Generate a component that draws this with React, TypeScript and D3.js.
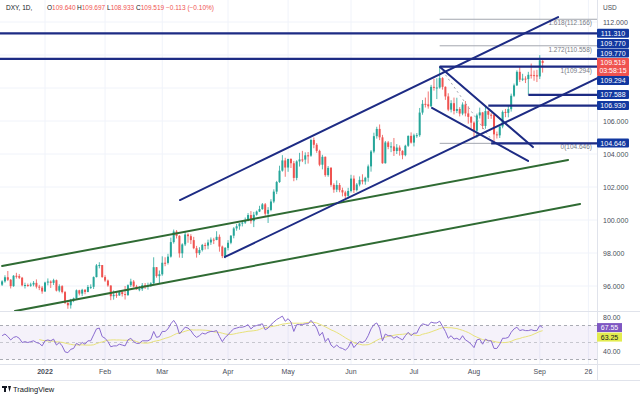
import * as d3 from 'd3'

// DXY daily bars, index 0 = 13 Dec 2021, one bar per weekday. [open, high, low, close]
const candles: [number, number, number, number][] = [
  [96.08, 96.35, 96.0, 96.28], [96.28, 96.65, 96.2, 96.53], [96.53, 96.91, 96.3, 96.38], [96.38, 96.42, 95.85, 95.99],
  [95.99, 96.66, 95.95, 96.62], [96.62, 96.8, 96.45, 96.6], [96.6, 96.72, 96.42, 96.5], [96.5, 96.55, 95.98, 96.04],
  [96.04, 96.2, 95.85, 96.06], [96.06, 96.15, 95.95, 96.02], [96.02, 96.2, 95.95, 96.09], [96.09, 96.3, 95.98, 96.19],
  [96.19, 96.4, 95.85, 95.96], [95.96, 96.07, 95.75, 95.9], [95.9, 96.0, 95.53, 95.67],
  // Jan
  [95.67, 96.26, 95.64, 96.21], [96.21, 96.46, 96.04, 96.27], [96.27, 96.34, 95.88, 96.19], [96.19, 96.44, 96.06, 96.35],
  [96.35, 96.39, 95.67, 95.72], [95.72, 96.1, 95.62, 95.99], [95.99, 96.05, 95.55, 95.63], [95.63, 95.7, 94.91, 94.97],
  [94.97, 95.1, 94.62, 94.83], [94.83, 95.22, 94.63, 95.17], [95.17, 95.3, 95.02, 95.25], [95.25, 95.79, 95.22, 95.74],
  [95.74, 95.77, 95.43, 95.54], [95.54, 95.83, 95.39, 95.77], [95.77, 95.81, 95.5, 95.64], [95.64, 96.06, 95.62, 95.94],
  [95.94, 96.1, 95.82, 95.95], [95.95, 96.58, 95.82, 96.54], [96.54, 97.33, 96.52, 97.25], [97.25, 97.44, 97.07, 97.27],
  [97.27, 97.27, 96.5, 96.54],
  // Feb
  [96.54, 96.65, 96.25, 96.33], [96.33, 96.39, 95.95, 96.03], [96.03, 96.04, 95.14, 95.38], [95.38, 95.73, 95.17, 95.47],
  [95.47, 95.62, 95.28, 95.43], [95.43, 95.73, 95.4, 95.63], [95.63, 95.7, 95.36, 95.51], [95.51, 96.0, 95.18, 95.45],
  [95.45, 96.1, 95.4, 96.05], [96.05, 96.44, 95.94, 96.27], [96.27, 96.36, 95.92, 95.97], [95.97, 96.07, 95.78, 95.8],
  [95.8, 96.0, 95.68, 95.81], [95.81, 96.18, 95.7, 96.05], [96.05, 96.18, 95.82, 96.03], [96.03, 96.2, 95.78, 96.04],
  [96.04, 96.23, 95.95, 96.16], [96.16, 97.74, 96.13, 97.14], [97.14, 97.15, 96.5, 96.6], [96.6, 96.94, 96.12, 96.71],
  // Mar
  [96.71, 97.8, 96.62, 97.41], [97.41, 97.74, 97.2, 97.4], [97.4, 97.95, 97.3, 97.78], [97.78, 98.93, 97.72, 98.66],
  [98.66, 99.42, 98.57, 99.3], [99.3, 99.39, 98.88, 99.04], [99.04, 99.08, 97.72, 97.98], [97.98, 98.59, 97.7, 98.52],
  [98.52, 99.29, 98.42, 99.12], [99.12, 99.19, 98.62, 99.02], [99.02, 99.14, 98.54, 98.78], [98.78, 98.98, 98.23, 98.29],
  [98.29, 98.43, 97.72, 97.99], [97.99, 98.35, 97.88, 98.18], [98.18, 98.55, 98.09, 98.49], [98.49, 98.62, 98.21, 98.45],
  [98.45, 98.81, 98.23, 98.64], [98.64, 98.94, 98.49, 98.81], [98.81, 98.92, 98.54, 98.79], [98.79, 99.32, 98.77, 98.98],
  [98.98, 99.12, 98.08, 98.39], [98.39, 98.45, 97.69, 97.81], [97.81, 98.36, 97.68, 98.31],
  // Apr
  [98.31, 98.78, 98.16, 98.62], [98.62, 99.08, 98.53, 99.05], [99.05, 99.57, 98.89, 99.49], [99.49, 99.76, 99.35, 99.62],
  [99.62, 99.81, 99.41, 99.79], [99.79, 99.94, 99.61, 99.84], [99.84, 100.15, 99.76, 99.95], [99.95, 100.42, 99.92, 100.3],
  [100.3, 100.54, 99.78, 99.93], [99.93, 100.49, 99.57, 100.32], [100.32, 100.57, 100.26, 100.51], [100.51, 100.86, 100.48, 100.66],
  [100.66, 101.03, 100.62, 100.95], [100.95, 101.03, 100.25, 100.38], [100.38, 100.78, 99.82, 100.61], [100.61, 101.26, 100.53, 101.12],
  [101.12, 101.86, 101.02, 101.72], [101.72, 102.37, 101.57, 102.3], [102.3, 103.29, 102.25, 102.99], [102.99, 103.93, 102.93, 103.61],
  [103.61, 103.77, 102.62, 103.18],
  // May
  [103.18, 103.71, 102.92, 103.7], [103.7, 103.74, 103.15, 103.44], [103.44, 103.58, 102.35, 102.55], [102.55, 103.62, 102.41, 103.55],
  [103.55, 104.07, 103.24, 103.67], [103.67, 104.19, 103.51, 103.66], [103.66, 104.1, 103.38, 103.92], [103.92, 104.12, 103.42, 103.9],
  [103.9, 104.93, 103.83, 104.85], [104.85, 105.0, 104.35, 104.56], [104.56, 104.66, 104.07, 104.19], [104.19, 104.26, 103.26, 103.35],
  [103.35, 103.95, 103.07, 103.83], [103.83, 103.85, 102.62, 102.72], [102.72, 103.27, 102.62, 103.16], [103.16, 103.21, 102.02, 102.13],
  [102.13, 102.23, 101.65, 101.84], [101.84, 102.4, 101.69, 102.12], [102.12, 102.24, 101.68, 101.81], [101.81, 101.96, 101.43, 101.67],
  [101.67, 101.77, 101.3, 101.46], [101.46, 101.95, 101.3, 101.76],
  // Jun
  [101.76, 102.74, 101.67, 102.51], [102.51, 102.7, 101.64, 101.81], [101.81, 102.24, 101.73, 102.15], [102.15, 102.64, 102.04, 102.43],
  [102.43, 102.77, 102.16, 102.33], [102.33, 102.62, 102.14, 102.56], [102.56, 103.36, 102.32, 103.25], [103.25, 104.24, 102.93, 104.15],
  [104.15, 105.29, 104.05, 105.08], [105.08, 105.65, 104.93, 105.52], [105.52, 105.79, 104.84, 105.01], [105.01, 105.16, 103.41, 103.44],
  [103.44, 104.79, 103.42, 104.7], [104.7, 104.79, 104.29, 104.43], [104.43, 104.72, 104.11, 104.46], [104.46, 104.97, 103.88, 104.18],
  [104.18, 104.6, 104.0, 104.39], [104.39, 104.52, 103.9, 104.19], [104.19, 104.23, 103.68, 103.93], [103.93, 104.56, 103.86, 104.5],
  [104.5, 105.12, 104.43, 105.1], [105.1, 105.31, 104.63, 104.69],
  // Jul
  [104.69, 105.23, 104.46, 105.13], [105.13, 105.27, 104.98, 105.14], [105.14, 106.79, 105.04, 106.51], [106.51, 107.27, 106.38, 107.04],
  [107.04, 107.42, 106.82, 107.01], [107.01, 107.79, 106.75, 106.89], [106.89, 108.19, 106.85, 108.07], [108.07, 108.56, 107.84, 108.02],
  [108.02, 108.59, 107.33, 108.03], [108.03, 109.29, 107.96, 108.6], [108.6, 108.66, 107.9, 108.07], [108.07, 108.1, 107.28, 107.49],
  [107.49, 107.68, 106.6, 106.69], [106.69, 107.26, 106.52, 107.08], [107.08, 107.42, 106.4, 106.61], [106.61, 107.41, 106.48, 106.73],
  [106.73, 106.84, 106.28, 106.45], [106.45, 107.13, 106.35, 107.0], [107.0, 107.21, 106.28, 106.46], [106.46, 106.89, 105.84, 106.25],
  [106.25, 106.3, 105.54, 105.9],
  // Aug
  [105.9, 105.98, 105.05, 105.41], [105.41, 106.45, 104.98, 106.34], [106.34, 106.81, 106.15, 106.52], [106.52, 106.55, 105.51, 105.7],
  [105.7, 106.93, 105.53, 106.6], [106.6, 106.65, 106.12, 106.38], [106.38, 106.48, 106.13, 106.36], [106.36, 106.45, 104.64, 105.19],
  [105.19, 105.36, 104.94, 105.13], [105.13, 105.69, 104.97, 105.67], [105.67, 106.64, 105.56, 106.55], [106.55, 106.73, 106.23, 106.49],
  [106.49, 106.97, 106.22, 106.72], [106.72, 107.66, 106.57, 107.53], [107.53, 108.27, 107.45, 108.16], [108.16, 109.07, 108.12, 108.98],
  [108.98, 109.27, 108.36, 108.5], [108.5, 108.86, 108.42, 108.57], [108.57, 108.71, 108.3, 108.54], [108.54, 108.98, 107.59, 108.8],
  [108.8, 109.48, 108.57, 108.78], [108.78, 109.06, 108.44, 108.77], [108.77, 109.1, 108.36, 108.7],
  // Sep
  [108.7, 109.99, 108.54, 109.68], [109.64, 109.697, 108.933, 109.519],
]

const rsi: number[] = [
  58, 60, 57, 53, 56, 57, 55, 50, 51, 50, 51, 52, 50, 49, 46,
  52, 53, 52, 54, 47, 50, 46, 39, 38, 42, 43, 49, 47, 50, 48, 52, 52, 59, 66, 67, 57,
  55, 51, 45, 46, 46, 48, 47, 46, 53, 55, 51, 49, 49, 52, 52, 52, 54, 63, 56, 57,
  63, 63, 66, 72, 76, 71, 60, 64, 68, 67, 64, 59, 56, 58, 61, 60, 62, 63, 63, 64, 57, 51, 56,
  59, 63, 66, 67, 68, 68, 69, 71, 66, 69, 70, 71, 72, 65, 67, 71, 74, 77, 79, 81, 75,
  78, 74, 63, 71, 71, 71, 72, 72, 76, 72, 67, 58, 62, 51, 55, 47, 44, 47, 44, 43, 41, 44,
  51, 44, 48, 51, 50, 52, 58, 66, 71, 73, 67, 52, 60, 58, 58, 55, 57, 55, 53, 58, 62, 58,
  61, 61, 68, 72, 71, 70, 74, 73, 73, 75, 69, 63, 55, 58, 54, 55, 53, 58, 53, 51, 48,
  44, 53, 54, 48, 54, 52, 52, 43, 43, 48, 55, 55, 56, 62, 66, 68, 64, 65, 64, 64, 65, 64, 64,
  70, 67.55,
]

const monthTicks = [
  { label: '2022', bar: 15 }, { label: 'Feb', bar: 36 }, { label: 'Mar', bar: 56 }, { label: 'Apr', bar: 79 },
  { label: 'May', bar: 100 }, { label: 'Jun', bar: 122 }, { label: 'Jul', bar: 144 }, { label: 'Aug', bar: 165 },
  { label: 'Sep', bar: 188 }, { label: '26', bar: 205 },
]
const priceTicks = [96, 98, 100, 102, 104, 106, 112]
const gridPrices = [96, 98, 100, 102, 104, 106, 108, 110, 112]
const rsiTicks = [80, 40]

// drawings: [bar, price] anchors
const navyTrends = [
  [[62.2, 101.21], [194.4, 112.3]],
  [[77.9, 97.76], [208.4, 108.61]],
  [[153.1, 109.27], [185.6, 104.42]],
  [[150.3, 106.79], [183.9, 103.58]],
]
const greenTrends = [
  [[0, 97.21], [197.9, 103.64]],
  [[4.5, 94.48], [202.1, 100.97]],
]
const levels = [
  { price: 111.31, from: -1 }, { price: 109.77, from: -1 }, { price: 109.294, from: 153 },
  { price: 107.588, from: 184 }, { price: 106.93, from: 170 }, { price: 104.646, from: 171 },
]
const levelTags = [111.31, 109.77, 109.77, 109.294, 107.588, 106.93, 104.646]
const fibLevels = [
  { ratio: '0', price: 104.646 }, { ratio: '1', price: 109.294 },
  { ratio: '1.272', price: 110.558 }, { ratio: '1.618', price: 112.166 },
]
const fibAnchor = { bar: 153, fromPrice: 109.294, toBar: 172, toPrice: 104.646 }
const lastPrice = 109.519
const rsiTags = { rsi: 67.55, ma: 63.25 }

const NAVY = '#1d2b84'
const TAG = '#1238a0'
const GREEN = '#2f6b33'
const UP = '#26a69a'
const DOWN = '#ef5350'
const FONT = 'Liberation Sans, Arial, sans-serif'
const AXIS_X = 597
const PANE_BOTTOM = 311

export default function App() {
  const x = d3.scaleLinear().domain([15, 205]).range([45, 588.4])
  const y = d3.scaleLinear().domain([96, 112]).range([286, 22])
  const yr = d3.scaleLinear().domain([30, 70]).range([359.5, 325.5])

  const rsiPath = d3.line<number>().x((_, i) => x(i)).y(v => yr(v))(rsi) || ''
  const ma = rsi.map((_, i) => (i < 13 ? null : d3.mean(rsi.slice(i - 13, i + 1)) as number))
  const maPath = d3.line<number | null>()
    .defined(v => v != null)
    .x((_, i) => x(i))
    .y(v => yr(v as number))(ma) || ''

  // keep price-scale tags from overlapping, last price stays put
  const th = 9.5
  const py = y(lastPrice)
  const pTop = py - 5
  const pBottom = py + 13
  const tagYs: { v: number; y: number }[] = []
  let lim = pTop
  levelTags.filter(v => v > lastPrice).sort((a, b) => a - b).forEach(v => {
    const yy = Math.min(y(v), lim - th / 2)
    tagYs.push({ v, y: yy })
    lim = yy - th / 2
  })
  lim = pBottom
  levelTags.filter(v => v < lastPrice).sort((a, b) => b - a).forEach(v => {
    const yy = Math.max(y(v), lim + th / 2)
    tagYs.push({ v, y: yy })
    lim = yy + th / 2
  })

  const header = [
    { t: 'O', v: '109.640', x: 47 }, { t: 'H', v: '109.697', x: 77 },
    { t: 'L', v: '108.933', x: 107 }, { t: 'C', v: '109.519', x: 136 },
  ]

  return (
    <svg width={640} height={399} style={{ position: 'absolute', left: 0, top: 0, background: '#fff' }} fontFamily={FONT}>
      <defs>
        <clipPath id="pane"><rect x={0} y={0} width={AXIS_X} height={PANE_BOTTOM} /></clipPath>
        <clipPath id="rsipane"><rect x={0} y={312} width={AXIS_X} height={52} /></clipPath>
      </defs>

      {/* grid */}
      {monthTicks.map(m => (
        <line key={m.label} x1={x(m.bar)} x2={x(m.bar)} y1={0} y2={364} stroke="#f0f3fa" />
      ))}
      {gridPrices.map(p => (
        <line key={p} x1={0} x2={AXIS_X} y1={y(p)} y2={y(p)} stroke="#f0f3fa" />
      ))}

      {/* candles */}
      <g clipPath="url(#pane)">
        {candles.map(([o, h, l, c], i) => {
          const col = c >= o ? UP : DOWN
          const top = y(Math.max(o, c))
          const bh = Math.max(1, y(Math.min(o, c)) - top)
          return (
            <g key={i}>
              <line x1={x(i)} x2={x(i)} y1={y(h)} y2={y(l)} stroke={col} strokeWidth={0.8} />
              <rect x={x(i) - 1} y={top} width={2} height={bh} fill={col} />
            </g>
          )
        })}

        {/* fibonacci */}
        {fibLevels.map(f => (
          <g key={f.ratio}>
            <line x1={x(fibAnchor.bar)} x2={AXIS_X} y1={y(f.price)} y2={y(f.price)} stroke="#a3a6af" strokeWidth={1} />
            <text x={592} y={y(f.price) + 6} fontSize={6.5} fill="#787b86" textAnchor="end">
              {`${f.ratio}(${f.price.toFixed(3)})`}
            </text>
          </g>
        ))}
        <line x1={x(fibAnchor.bar)} y1={y(fibAnchor.fromPrice)} x2={x(fibAnchor.toBar)} y2={y(fibAnchor.toPrice)}
          stroke="#a3a6af" strokeWidth={1} strokeDasharray="2,3" />

        {/* horizontal levels */}
        {levels.map(l => (
          <line key={l.price} x1={l.from < 0 ? 0 : x(l.from)} x2={AXIS_X} y1={y(l.price)} y2={y(l.price)}
            stroke={NAVY} strokeWidth={2.3} />
        ))}

        {greenTrends.map((t, i) => (
          <line key={'g' + i} x1={x(t[0][0])} y1={y(t[0][1])} x2={x(t[1][0])} y2={y(t[1][1])}
            stroke={GREEN} strokeWidth={2} strokeLinecap="round" />
        ))}
        {navyTrends.map((t, i) => (
          <line key={'n' + i} x1={x(t[0][0])} y1={y(t[0][1])} x2={x(t[1][0])} y2={y(t[1][1])}
            stroke={NAVY} strokeWidth={2} strokeLinecap="round" />
        ))}
      </g>

      {/* header */}
      <text x={6} y={10} fontSize={6.5} fill="#131722">DXY, 1D,</text>
      {header.map(h => (
        <text key={h.t} x={h.x} y={10} fontSize={6.5}>
          <tspan fill="#131722">{h.t}</tspan><tspan fill={DOWN}>{h.v}</tspan>
        </text>
      ))}
      <text x={166} y={10} fontSize={6.5} fill={DOWN}>−0.113 (−0.10%)</text>

      {/* RSI pane */}
      <rect x={0} y={yr(70)} width={AXIS_X} height={yr(30) - yr(70)} fill="#7e57c2" opacity={0.08} />
      {[70, 50, 30].map(v => (
        <line key={v} x1={0} x2={AXIS_X} y1={yr(v)} y2={yr(v)} stroke="#9598a1" strokeWidth={0.8}
          strokeDasharray="3,3" opacity={v === 50 ? 0.6 : 1} />
      ))}
      <g clipPath="url(#rsipane)">
        <path d={maPath} fill="none" stroke="#e8e27a" strokeWidth={1} />
        <path d={rsiPath} fill="none" stroke="#8a6bd0" strokeWidth={1} />
      </g>

      {/* separators */}
      <line x1={0} x2={640} y1={311.5} y2={311.5} stroke="#e0e3eb" />
      <line x1={0} x2={640} y1={364.5} y2={364.5} stroke="#e0e3eb" />
      <line x1={0} x2={640} y1={380.5} y2={380.5} stroke="#e0e3eb" />
      <line x1={AXIS_X + 0.5} x2={AXIS_X + 0.5} y1={0} y2={380} stroke="#e0e3eb" />

      {/* time axis */}
      {monthTicks.map(m => (
        <text key={m.label} x={x(m.bar)} y={374} fontSize={7} fill="#4a4e5a" textAnchor="middle"
          fontWeight={m.label === '2022' ? 'bold' : 'normal'}>{m.label}</text>
      ))}

      {/* price axis */}
      <text x={603} y={10} fontSize={6.5} fill="#4a4e5a">USD</text>
      {priceTicks.map(p => (
        <text key={p} x={603} y={y(p) + 2.5} fontSize={7} fill="#4a4e5a">{p.toFixed(3)}</text>
      ))}
      {tagYs.map((t, i) => (
        <g key={i}>
          <rect x={AXIS_X} y={t.y - th / 2} width={32} height={th - 0.5} fill={TAG} rx={1} />
          <text x={613} y={t.y + 2.5} fontSize={7} fill="#fff" textAnchor="middle">{t.v.toFixed(3)}</text>
        </g>
      ))}
      <rect x={AXIS_X} y={pTop} width={32} height={pBottom - pTop} fill={DOWN} rx={1} />
      <text x={613} y={py + 2.5} fontSize={7} fill="#fff" textAnchor="middle">{lastPrice.toFixed(3)}</text>
      <text x={613} y={py + 10.5} fontSize={7} fill="#fff" textAnchor="middle">03:58:15</text>

      {/* RSI axis */}
      {rsiTicks.map(v => (
        <text key={v} x={603} y={yr(v) + 2.5} fontSize={7} fill="#4a4e5a">{v.toFixed(2)}</text>
      ))}
      <rect x={AXIS_X} y={yr(rsiTags.rsi) - 4.5} width={25} height={9} fill="#7e57c2" />
      <text x={609.5} y={yr(rsiTags.rsi) + 2.5} fontSize={7} fill="#fff" textAnchor="middle">{rsiTags.rsi.toFixed(2)}</text>
      <rect x={AXIS_X} y={yr(rsiTags.rsi) + 5} width={25} height={9} fill="#e3ec4f" />
      <text x={609.5} y={yr(rsiTags.rsi) + 12} fontSize={7} fill="#131722" textAnchor="middle">{rsiTags.ma.toFixed(2)}</text>

      {/* logo */}
      <g fill="#131722">
        <rect x={2} y={386} width={5} height={2} />
        <rect x={4} y={386} width={2} height={6} />
        <path d="M8 386 L11 386 L9.5 392 Z" />
      </g>
      <text x={13} y={392} fontSize={7.5} fill="#131722">TradingView</text>
    </svg>
  )
}
